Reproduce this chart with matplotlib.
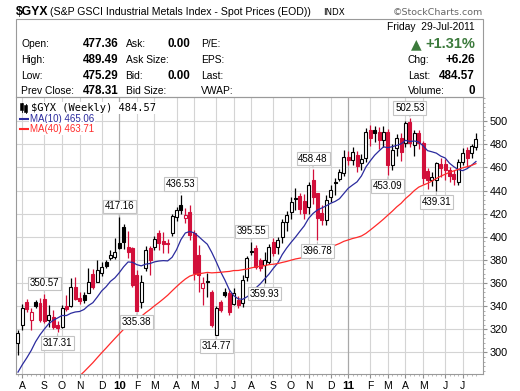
import matplotlib.pyplot as plt
import numpy as np
import pandas as pd
from matplotlib.patches import Rectangle
from matplotlib.lines import Line2D

# Weekly bars of $GYX, Jul 2009 - Jul 2011
opens = [307.8, 323.6, 343.8, 328.0, 343.8, 342.4, 346.5, 328.0, 330.8, 324.0,
         322.2, 340.1, 340.1, 356.8, 347.0, 350.0, 351.6, 367.5, 361.1, 368.4,
         378.0, 381.4, 382.8, 395.0, 408.7, 391.4, 390.0, 366.9, 343.8, 372.7,
         390.3, 391.2, 403.3, 396.5, 394.5, 403.0, 417.4, 427.5, 416.0, 421.7,
         403.0, 384.2, 355.4, 362.0, 352.5, 315.0, 343.8, 352.5, 351.6, 342.0,
         345.3, 342.4, 365.5, 388.0, 390.0, 380.0, 375.6, 378.4, 395.8, 391.4,
         400.1, 413.1, 421.7, 433.5, 435.0, 431.0, 426.0, 449.2, 437.7, 421.0,
         414.5, 434.7, 447.0, 450.0, 455.0, 469.4, 466.5, 470.8, 464.0, 468.0,
         492.5, 492.0, 491.0, 483.8, 491.0, 462.5, 476.6, 485.3, 480.9, 499.7,
         479.5, 490.0, 481.0, 457.0, 449.2, 449.2, 462.8, 462.8, 458.0, 454.0,
         447.7, 465.0, 475.2, 472.5, 477.36]
highs = [319.3, 342.0, 346.0, 338.4, 345.0, 347.0, 350.57, 341.0, 337.0, 327.0,
         341.0, 349.6, 364.1, 365.5, 352.0, 352.0, 372.7, 372.1, 379.9, 378.0,
         380.0, 388.6, 398.7, 417.16, 411.0, 405.0, 391.4, 371.3, 366.9, 392.0,
         392.0, 400.7, 406.0, 404.0, 398.0, 420.0, 426.0, 436.53, 425.0, 427.5,
         405.9, 392.8, 365.5, 368.6, 354.0, 340.0, 345.3, 355.4, 354.0, 355.7,
         348.7, 366.9, 383.0, 395.55, 393.0, 382.0, 387.1, 394.0, 399.0, 400.0,
         415.0, 422.0, 434.0, 442.0, 438.0, 437.0, 447.0, 458.48, 438.0, 427.5,
         436.0, 445.0, 451.0, 459.0, 475.2, 474.0, 478.0, 474.0, 472.0, 494.0,
         496.7, 496.0, 495.0, 496.0, 493.0, 480.0, 489.0, 490.0, 500.0, 502.53,
         492.0, 492.0, 483.0, 459.3, 456.0, 465.0, 468.0, 467.0, 460.0, 458.0,
         467.0, 477.0, 478.0, 480.0, 489.49]
lows = [297.7, 319.3, 335.0, 319.3, 338.0, 326.5, 325.0, 322.0, 320.0, 317.31,
        321.0, 336.0, 339.0, 345.3, 342.0, 343.0, 351.1, 355.0, 361.0, 366.0,
        373.0, 379.9, 381.0, 389.0, 389.0, 382.0, 356.6, 335.38, 338.1, 370.0,
        367.0, 388.6, 388.6, 386.0, 386.0, 401.0, 414.0, 420.0, 412.0, 397.0,
        362.6, 352.0, 341.0, 348.0, 322.0, 314.77, 335.0, 348.1, 332.3, 341.0,
        338.3, 339.2, 362.0, 384.0, 372.0, 370.0, 359.93, 376.0, 383.0, 385.0,
        395.0, 405.0, 415.0, 423.2, 420.0, 415.0, 420.0, 428.0, 396.78, 410.0,
        410.0, 430.0, 436.0, 448.0, 453.0, 462.0, 462.0, 456.0, 458.0, 465.0,
        479.0, 482.0, 476.0, 478.0, 453.09, 458.0, 470.0, 466.0, 478.0, 478.0,
        470.0, 476.0, 446.0, 441.0, 444.0, 439.31, 452.0, 449.0, 447.0, 445.0,
        445.0, 462.0, 460.0, 468.0, 475.29]
closes = [316.5, 338.1, 337.2, 334.6, 340.1, 328.0, 327.0, 332.3, 322.2, 321.0,
          338.1, 337.5, 356.8, 345.9, 344.5, 345.3, 361.1, 356.8, 371.3, 373.6,
          374.5, 384.2, 387.1, 390.5, 395.8, 387.1, 358.3, 336.0, 361.1, 388.6,
          379.9, 398.1, 394.6, 394.0, 393.5, 418.4, 423.2, 423.5, 418.9, 401.6,
          368.4, 366.9, 359.7, 361.1, 323.6, 338.1, 336.6, 349.6, 335.2, 351.0,
          341.0, 362.6, 381.4, 387.1, 374.1, 373.0, 379.9, 391.4, 385.7, 397.2,
          413.1, 418.9, 430.4, 432.5, 424.0, 421.0, 445.0, 434.0, 416.0, 414.5,
          431.9, 440.5, 446.3, 455.8, 469.4, 466.5, 473.7, 461.0, 467.5, 491.0,
          485.3, 489.5, 483.8, 491.0, 462.2, 475.0, 485.3, 473.7, 498.2, 480.9,
          489.6, 481.0, 450.7, 449.2, 452.0, 463.6, 459.3, 457.8, 452.5, 450.0,
          465.0, 472.3, 468.0, 478.31, 484.57]

# weekly closes before the visible window, only feed the moving averages
prior_closes = [265, 258, 242, 236, 228, 221, 215, 208, 204, 210, 214, 207, 203,
                199, 202, 205, 201, 198, 204, 212, 216, 222, 230, 236, 242, 251,
                247, 255, 262, 268, 273, 279, 271, 264, 268, 277, 286, 293, 301]

# values printed in the chart legend
ma10_last = 465.06
ma40_last = 463.71

peak_bars = [6, 23, 37, 53, 67, 89]
trough_bars = [9, 27, 45, 56, 68, 84, 95]

dates = pd.date_range("2009-07-27", periods=len(closes), freq="W-MON")

O, Hh, L, C = map(np.array, (opens, highs, lows, closes))
x = np.arange(len(C))

all_c = pd.Series(prior_closes + closes)
n0 = len(prior_closes)
ma10 = all_c.rolling(10).mean().values[n0:]
ma40 = all_c.rolling(40).mean().values[n0:]

RED = "#d20f3a"
BLUE = "#2b2b9e"
GRID = "#d4d4d4"
W, H = 520, 391


def fx(px):
    return px / W


def fy(py):
    return 1 - py / H


fig = plt.figure(figsize=(5.2, 3.91), dpi=100)
ax = fig.add_axes([fx(16), fy(374), fx(483) - fx(16), fy(97) - fy(374)])

# grid
for v in range(300, 520, 20):
    ax.axhline(v, color=GRID, lw=0.8, zorder=0)
month_starts = [i for i in range(1, len(dates)) if dates[i].month != dates[i - 1].month]
tick_labels = []
for i in month_starts:
    d = dates[i]
    if d.month == 1:
        ax.axvline(i, color="#a8a8a8", lw=0.9, zorder=0)
        tick_labels.append(d.strftime("%y"))
    else:
        ax.axvline(i, color=GRID, lw=0.8, zorder=0)
        tick_labels.append(d.strftime("%b")[0])

# candles
prev = np.r_[C[0], C[:-1]]
col = np.where(C < prev, RED, "black")
up = C >= O
ax.vlines(x, L, Hh, colors=col, lw=0.9, zorder=2)
bottom = np.minimum(O, C)
height = np.maximum(np.abs(C - O), 0.9)
ax.bar(x, height, bottom=bottom, width=0.68,
       color=np.where(up, "white", col), edgecolor=col, lw=0.8, zorder=3)

ax.plot(x, ma10, color=BLUE, lw=0.9, zorder=4)
ax.plot(x, ma40, color="#ff2a2a", lw=0.9, zorder=4)

box = dict(boxstyle="square,pad=0.18", fc="white", ec="#c4c4c4", lw=0.8)
arrow = dict(arrowstyle="-", color="#c4c4c4", lw=0.8, shrinkA=0, shrinkB=1)
for i in peak_bars:
    ax.annotate(f"{highs[i]:.2f}", xy=(i, highs[i]), xytext=(0, 7.6),
                textcoords="offset points", ha="center", va="center",
                fontsize=7, family="Liberation Sans", bbox=box,
                arrowprops=arrow, zorder=6)
for i in trough_bars:
    ax.annotate(f"{lows[i]:.2f}", xy=(i, lows[i]), xytext=(0, -7.6),
                textcoords="offset points", ha="center", va="center",
                fontsize=7, family="Liberation Sans", bbox=box,
                arrowprops=arrow, zorder=6)

ax.set_xlim(-0.45, 105.6)
ax.set_ylim(281.2, 521)
ax.yaxis.tick_right()
ax.set_yticks(range(300, 520, 20))
ax.set_yticks(np.arange(284, 521, 4), minor=True)
ax.set_xticks(month_starts)
ax.set_xticklabels(tick_labels, fontsize=7.5, family="Liberation Sans")
for lab in ax.get_xticklabels():
    if lab.get_text().isdigit():
        lab.set_fontweight("bold")
        lab.set_fontsize(8.2)
ax.set_xticks(x, minor=True)
ax.tick_params(axis="y", which="major", labelsize=7.8, length=3, color="#909090", pad=2)
ax.tick_params(axis="y", which="minor", length=1.5, color="#a0a0a0")
ax.tick_params(axis="x", which="major", length=3, color="#909090", pad=2)
ax.tick_params(axis="x", which="minor", length=1.5, color="#b0b0b0")
for lab in ax.get_yticklabels():
    lab.set_family("Liberation Sans")
for s in ax.spines.values():
    s.set_color("#9a9a9a")
    s.set_linewidth(0.8)

# legend inside the plot
bg = dict(boxstyle="square,pad=0.1", fc="white", ec="none")
fig.text(fx(31), fy(107.7), f"$GYX (Weekly) {closes[-1]:.2f}", color="black",
         fontsize=7.5, family="DejaVu Sans Mono", va="center", bbox=bg)
fig.text(fx(29.5), fy(119), f"MA(10) {ma10_last:.2f}", color=BLUE,
         fontsize=7, family="Liberation Sans", va="center", bbox=bg)
fig.text(fx(29.5), fy(129.3), f"MA(40) {ma40_last:.2f}", color="#ff2a2a",
         fontsize=7, family="Liberation Sans", va="center", bbox=bg)
for x0, y0, y1 in [(21.5, 103.5, 110.5), (25.5, 105, 111.5)]:
    fig.add_artist(Line2D([fx(x0), fx(x0)], [fy(y0 - 1), fy(y1 + 1)], color="black", lw=0.6))
    fig.add_artist(Rectangle((fx(x0 - 1.2), fy(y1)), fx(2.4), fy(y0) - fy(y1),
                             fc="black", ec="black", lw=0.4))
fig.add_artist(Line2D([fx(20), fx(28)], [fy(119), fy(119)], color=BLUE, lw=1.5))
fig.add_artist(Line2D([fx(20), fx(28)], [fy(129.3), fy(129.3)], color="#ff2a2a", lw=1.5))

# header
fig.text(fx(16), fy(12.3), "$GYX", fontsize=8.8, weight="bold", family="Liberation Sans", va="center")
fig.text(fx(50), fy(12.3), "(S&P GSCI Industrial Metals Index - Spot Prices (EOD))",
         fontsize=7.6, family="Liberation Sans", va="center")
fig.text(fx(323), fy(12.5), "INDX", fontsize=6.3, family="DejaVu Sans", va="center")
fig.text(fx(483), fy(12.3), "\u00a9StockCharts.com", fontsize=6.8, family="DejaVu Sans",
         color="#666666", ha="right", va="center")

fig.add_artist(Rectangle((fx(16), fy(97)), fx(483) - fx(16), fy(19) - fy(97),
                         fill=False, ec="#9a9a9a", lw=0.8))

lab_kw = dict(fontsize=7.4, family="Liberation Sans", va="center")
val_kw = dict(fontsize=8.4, family="Liberation Sans", weight="bold", va="center", ha="right")
rows = [44.3, 60, 76, 91]
left_labels = ["Open:", "High:", "Low:", "Prev Close:"]
left_vals = [opens[-1], highs[-1], lows[-1], closes[-2]]
mid_labels = ["Ask:", "Ask Size:", "Bid:", "Bid Size:"]
mid_vals = ["0.00", "", "0.00", ""]
right_labels = ["P/E:", "EPS:", "Last:", "VWAP:"]
for r, a, v, m, mv, rl in zip(rows, left_labels, left_vals, mid_labels, mid_vals, right_labels):
    fig.text(fx(21), fy(r), a, **lab_kw)
    fig.text(fx(118.5), fy(r), f"{v:.2f}", **val_kw)
    fig.text(fx(125.5), fy(r), m, **lab_kw)
    if mv:
        fig.text(fx(190), fy(r), mv, **val_kw)
    fig.text(fx(201), fy(r), rl, **lab_kw)

chg = closes[-1] - closes[-2]
fig.text(fx(475), fy(26.7), "Friday  29-Jul-2011", ha="right", **lab_kw)
fig.text(fx(475), fy(44), f"+{chg / closes[-2] * 100:.2f}%", fontsize=10.5, weight="bold",
         family="Liberation Sans", color="#3c7a3c", ha="right", va="center")
fig.text(fx(411), fy(44), "\u25b2", fontsize=10, family="DejaVu Sans", color="#3c7a3c", va="center")
fig.text(fx(408), fy(60), "Chg:", **lab_kw)
fig.text(fx(475), fy(60), f"+{chg:.2f}", **val_kw)
fig.text(fx(408), fy(76), "Last:", **lab_kw)
fig.text(fx(475), fy(76), f"{closes[-1]:.2f}", **val_kw)
fig.text(fx(408), fy(91), "Volume:", **lab_kw)
fig.text(fx(475), fy(91), "0", **val_kw)

fig.savefig("out.png", dpi=100)
